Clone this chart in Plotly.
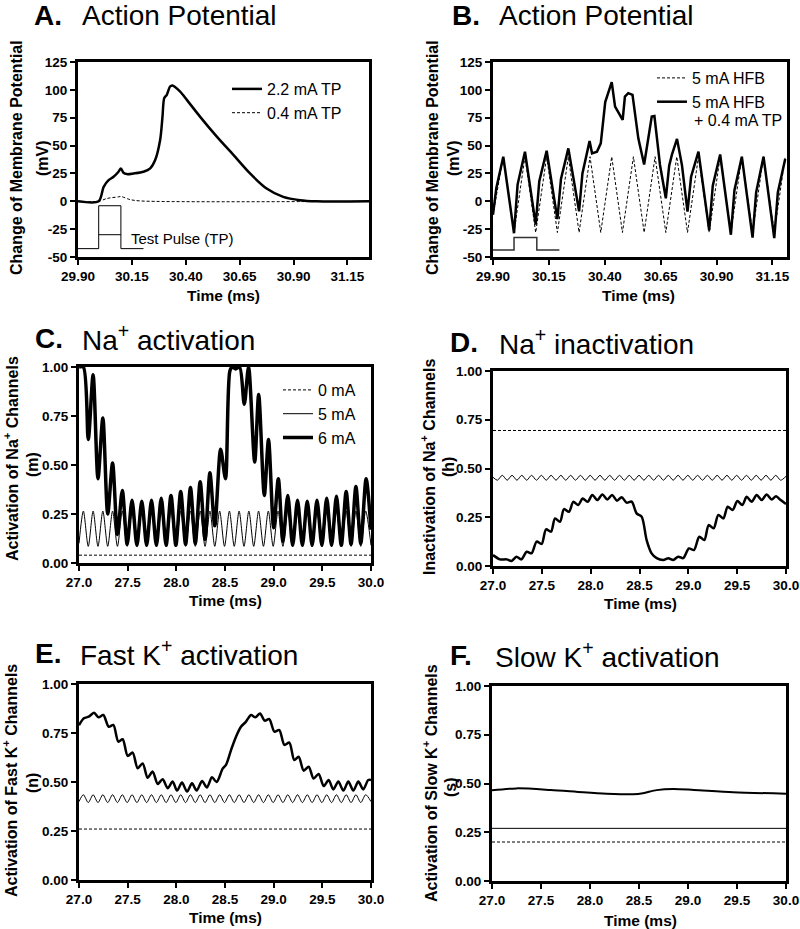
import plotly.graph_objects as go

FONT = "Liberation Sans, Arial, Helvetica, sans-serif"
W, H = 800, 929

# ---------------- Panel A : Action potential (single test pulse) ----------------
a_t_22 = [29.90, 29.996, 30.019, 30.042, 30.065, 30.088, 30.099, 30.111, 30.127, 30.158,
          30.204, 30.235, 30.258, 30.281, 30.292, 30.300, 30.312, 30.327, 30.338, 30.374,
          30.405, 30.466, 30.544, 30.621, 30.698, 30.775, 30.852, 30.930, 31.006, 31.25]
a_v_22 = [0, 0, 13, 19, 22, 26.5, 29.5, 25.6, 24.4, 25,
          26.5, 29.5, 37, 55, 76, 92.6, 95.6, 103, 104, 98.5,
          91, 76, 58, 41.6, 25, 11.5, 4, 1, 0, 0]
a_t_04 = [29.90, 29.996, 30.034, 30.088, 30.099, 30.142, 30.19, 31.25]
a_v_04 = [0, 0, 2.5, 4, 4.3, 1.5, 0.3, 0]
a_tp_t = [29.90, 29.996, 29.996, 30.099, 30.099, 30.204]
a_tp_v = [-42.5, -42.5, -4, -4, -42.5, -42.5]
a_tp_in_t = [29.996, 30.099]
a_tp_in_v = [-30, -30]

# ---------------- Panel B : Action potential with HFB ----------------
b_t_hfb = [29.90, 29.946, 29.994, 30.043, 30.091, 30.140, 30.188, 30.237, 30.285, 30.334,
           30.382, 30.431, 30.479, 30.528, 30.576, 30.625, 30.673, 30.722, 30.770, 30.819,
           30.867, 30.916, 30.964, 31.013, 31.061, 31.110, 31.158, 31.207]
b_v_hfb = [-12, 40, -28, 40, -28, 40, -28, 40, -28, 40,
           -28, 40, -28, 40, -28, 40, -28, 40, -28, 40,
           -28, 40, -28, 40, -28, 40, -28, 40]
b_t_tp = [29.900, 29.915, 29.946, 29.994, 30.010, 30.043, 30.091, 30.107, 30.140, 30.188,
          30.204, 30.237, 30.285, 30.300, 30.332, 30.343, 30.365, 30.382, 30.402, 30.431,
          30.446, 30.480, 30.490, 30.505, 30.524, 30.550, 30.576, 30.595, 30.610, 30.622,
          30.647, 30.673, 30.688, 30.700, 30.723, 30.745, 30.770, 30.786, 30.819, 30.867,
          30.883, 30.916, 30.964, 30.980, 31.013, 31.061, 31.077, 31.110, 31.158, 31.174,
          31.207]
b_v_tp = [-12, 12, 40, -28.7, 15, 44.5, -21, 18, 45.4, -16,
          20, 47.5, -9, 25, 54, 43, 44.5, 52, 89, 107,
          85, 73, 94, 97, 95.5, 56.5, 33, 59.5, 76, 76.5,
          32.6, 2.7, 32, 41.6, 56, 32.6, -9.3, 22, 44.5, -26,
          14, 42, -30, 10, 40, -32.6, 8, 40, -33, 8,
          38]
b_tp_t = [29.90, 29.994, 29.994, 30.096, 30.096, 30.197]
b_tp_v = [-43.7, -43.7, -32.4, -32.4, -43.7, -43.7]

# ---------------- shared time grid (ms) for the 5 mA HFB oscillations ----------------
T_GRID = [27.0,
          27.045, 27.095, 27.145, 27.195, 27.245, 27.295, 27.345, 27.395, 27.445, 27.495,
          27.545, 27.595, 27.645, 27.695, 27.745, 27.795, 27.845, 27.895, 27.945, 27.995,
          28.045, 28.095, 28.145, 28.195, 28.245, 28.295, 28.345, 28.395, 28.445, 28.495,
          28.545, 28.595, 28.645, 28.695, 28.745, 28.795, 28.845, 28.895, 28.945, 28.995,
          29.045, 29.095, 29.145, 29.195, 29.245, 29.295, 29.345, 29.395, 29.445, 29.495,
          29.545, 29.595, 29.645, 29.695, 29.745, 29.795, 29.845, 29.895, 29.945, 30.0]

# ---------------- Panel C : Na+ activation (m) ----------------
c_t_0 = [27.0, 30.0]
c_v_0 = [0.04, 0.04]
c_v_5 = [0.10,
         0.265, 0.085, 0.265, 0.085, 0.265, 0.085, 0.265, 0.085, 0.265, 0.085,
         0.265, 0.085, 0.265, 0.085, 0.265, 0.085, 0.265, 0.085, 0.265, 0.085,
         0.265, 0.085, 0.265, 0.085, 0.265, 0.085, 0.265, 0.085, 0.265, 0.085,
         0.265, 0.085, 0.265, 0.085, 0.265, 0.085, 0.265, 0.085, 0.265, 0.085,
         0.265, 0.085, 0.265, 0.085, 0.265, 0.085, 0.265, 0.085, 0.265, 0.085,
         0.265, 0.085, 0.265, 0.085, 0.265, 0.085, 0.265, 0.085, 0.265, 0.09]
c_t_6 = [27.000, 27.045, 27.095, 27.145, 27.195, 27.245, 27.295, 27.345, 27.395, 27.445,
         27.495, 27.545, 27.595, 27.645, 27.695, 27.745, 27.795, 27.845, 27.895, 27.945,
         27.995, 28.045, 28.095, 28.145, 28.195, 28.245, 28.295, 28.345, 28.395, 28.455,
         28.505, 28.550, 28.575, 28.610, 28.650, 28.698, 28.742, 28.805, 28.846, 28.904,
         28.947, 29.000, 29.048, 29.095, 29.145, 29.195, 29.245, 29.295, 29.345, 29.395,
         29.445, 29.495, 29.545, 29.595, 29.645, 29.695, 29.745, 29.795, 29.845, 29.895,
         29.950, 30.000]
c_v_6 = [1.00, 1.00, 0.63, 0.96, 0.43, 0.74, 0.25, 0.51, 0.145, 0.37,
         0.095, 0.32, 0.09, 0.315, 0.09, 0.32, 0.09, 0.33, 0.09, 0.345,
         0.09, 0.365, 0.095, 0.385, 0.10, 0.415, 0.12, 0.46, 0.19, 0.58,
         0.43, 0.98, 1.00, 0.99, 1.00, 0.81, 1.00, 0.515, 0.86, 0.345,
         0.63, 0.18, 0.43, 0.11, 0.345, 0.09, 0.32, 0.09, 0.315, 0.09,
         0.32, 0.09, 0.33, 0.09, 0.34, 0.09, 0.365, 0.095, 0.39, 0.10,
         0.43, 0.17]

# ---------------- Panel D : Na+ inactivation (h) ----------------
d_t_0 = [27.0, 30.0]
d_v_0 = [0.695, 0.695]
d_v_5 = [0.455,
         0.44, 0.465, 0.44, 0.465, 0.44, 0.465, 0.44, 0.465, 0.44, 0.465,
         0.44, 0.465, 0.44, 0.465, 0.44, 0.465, 0.44, 0.465, 0.44, 0.465,
         0.44, 0.465, 0.44, 0.465, 0.44, 0.465, 0.44, 0.465, 0.44, 0.465,
         0.44, 0.465, 0.44, 0.465, 0.44, 0.465, 0.44, 0.465, 0.44, 0.465,
         0.44, 0.465, 0.44, 0.465, 0.44, 0.465, 0.44, 0.465, 0.44, 0.465,
         0.44, 0.465, 0.44, 0.465, 0.44, 0.465, 0.44, 0.465, 0.44, 0.46]
d_t_6 = [27.000, 27.072, 27.140, 27.190, 27.240, 27.290, 27.345, 27.395, 27.447, 27.498,
         27.543, 27.594, 27.635, 27.686, 27.727, 27.778, 27.822, 27.873, 27.918, 27.969,
         28.017, 28.068, 28.120, 28.170, 28.220, 28.270, 28.317, 28.368, 28.420, 28.470,
         28.522, 28.573, 28.624, 28.676, 28.744, 28.795, 28.846, 28.897, 28.948, 29.006,
         29.058, 29.112, 29.164, 29.208, 29.259, 29.307, 29.358, 29.403, 29.454, 29.502,
         29.553, 29.597, 29.648, 29.700, 29.751, 29.802, 29.853, 29.898, 29.945, 30.000]
d_v_6 = [0.056, 0.034, 0.034, 0.026, 0.047, 0.034, 0.073, 0.065, 0.125, 0.113,
         0.188, 0.176, 0.244, 0.227, 0.292, 0.278, 0.329, 0.313, 0.346, 0.329,
         0.364, 0.338, 0.367, 0.341, 0.364, 0.335, 0.353, 0.325, 0.330, 0.270,
         0.253, 0.133, 0.065, 0.040, 0.031, 0.040, 0.031, 0.048, 0.040, 0.090,
         0.082, 0.150, 0.133, 0.210, 0.193, 0.262, 0.244, 0.304, 0.287, 0.333,
         0.313, 0.355, 0.330, 0.364, 0.338, 0.367, 0.341, 0.358, 0.338, 0.318]

# ---------------- Panel E : Fast K+ activation (n) ----------------
e_t_0 = [27.0, 30.0]
e_v_0 = [0.26, 0.26]
e_v_5 = [0.40,
         0.435, 0.395, 0.435, 0.395, 0.435, 0.395, 0.435, 0.395, 0.435, 0.395,
         0.435, 0.395, 0.435, 0.395, 0.435, 0.395, 0.435, 0.395, 0.435, 0.395,
         0.435, 0.395, 0.435, 0.395, 0.435, 0.395, 0.435, 0.395, 0.435, 0.395,
         0.435, 0.395, 0.435, 0.395, 0.435, 0.395, 0.435, 0.395, 0.435, 0.395,
         0.435, 0.395, 0.435, 0.395, 0.435, 0.395, 0.435, 0.395, 0.435, 0.395,
         0.435, 0.395, 0.435, 0.395, 0.435, 0.395, 0.435, 0.395, 0.435, 0.40]
e_t_6 = [27.000, 27.050, 27.100, 27.154, 27.200, 27.250, 27.305, 27.353, 27.404, 27.449,
         27.500, 27.551, 27.603, 27.654, 27.705, 27.757, 27.808, 27.860, 27.911, 27.962,
         28.007, 28.058, 28.110, 28.161, 28.209, 28.264, 28.315, 28.366, 28.414, 28.476,
         28.510, 28.562, 28.613, 28.664, 28.716, 28.767, 28.812, 28.860, 28.908, 28.955,
         29.007, 29.058, 29.110, 29.161, 29.212, 29.257, 29.308, 29.360, 29.410, 29.462,
         29.514, 29.565, 29.613, 29.664, 29.716, 29.767, 29.818, 29.870, 29.920, 29.972,
         30.000]
e_v_6 = [0.790, 0.825, 0.833, 0.853, 0.830, 0.842, 0.782, 0.791, 0.706, 0.718,
         0.633, 0.650, 0.570, 0.595, 0.522, 0.553, 0.490, 0.514, 0.468, 0.502,
         0.456, 0.497, 0.451, 0.493, 0.456, 0.505, 0.472, 0.524, 0.500, 0.568,
         0.587, 0.663, 0.731, 0.782, 0.808, 0.842, 0.830, 0.850, 0.813, 0.821,
         0.757, 0.765, 0.689, 0.701, 0.612, 0.629, 0.558, 0.578, 0.518, 0.541,
         0.479, 0.510, 0.462, 0.502, 0.456, 0.502, 0.456, 0.502, 0.462, 0.510,
         0.510]

# ---------------- Panel F : Slow K+ activation (s) ----------------
f_t_0 = [27.0, 30.0]
f_v_0 = [0.20, 0.20]
f_t_5 = [27.0, 30.0]
f_v_5 = [0.27, 0.27]
f_t_6 = [27.0, 27.25, 27.6, 27.93, 28.17, 28.44, 28.54, 28.68, 28.85, 29.06, 29.46, 30.0]
f_v_6 = [0.465, 0.475, 0.467, 0.455, 0.448, 0.445, 0.450, 0.466, 0.472, 0.467, 0.455, 0.448]

# ---------------- tick labels ----------------
ap_xticks = [29.90, 30.15, 30.40, 30.65, 30.90, 31.15]
ap_xtext = ["29.90", "30.15", "30.40", "30.65", "30.90", "31.15"]
ap_yticks = [-50, -25, 0, 25, 50, 75, 100, 125]
ap_ytext = ["-50", "-25", "0", "25", "50", "75", "100", "125"]
ch_xticks = [27.0, 27.5, 28.0, 28.5, 29.0, 29.5, 30.0]
ch_xtext = ["27.0", "27.5", "28.0", "28.5", "29.0", "29.5", "30.0"]
ch_yticks = [0, 0.25, 0.5, 0.75, 1.0]
ch_ytext = ["0.00", "0.25", "0.50", "0.75", "1.00"]

DASH = "3px,2px"

fig = go.Figure()


def line(x, y, ax, width=1.0, dash="solid", name=None, legend=None, shape="linear", color="black"):
    fig.add_trace(go.Scatter(
        x=x, y=y, mode="lines", xaxis="x" + ax, yaxis="y" + ax,
        line=dict(color=color, width=width, dash=dash, shape=shape, smoothing=0.8),
        name=name if name else "", showlegend=name is not None,
        legend=legend if legend else "legend", hoverinfo="skip"))


# A
line(a_t_22, a_v_22, "", 2.5, name="2.2 mA TP", legend="legend", shape="spline")
line(a_t_04, a_v_04, "", 1.0, DASH, name="0.4 mA TP", legend="legend", shape="spline")
line(a_tp_t, a_tp_v, "", 1.0)
line(a_tp_in_t, a_tp_in_v, "", 1.0)
# B
line(b_t_hfb, b_v_hfb, "2", 1.0, DASH, name="5 mA HFB", legend="legend2")
line(b_t_tp, b_v_tp, "2", 2.5, name="5 mA HFB", legend="legend2")
line(b_tp_t, b_tp_v, "2", 1.5, color="#333333")
# C
line(c_t_0, c_v_0, "3", 1.0, DASH, name="0 mA", legend="legend3")
line(T_GRID, c_v_5, "3", 1.0, name="5 mA", legend="legend3", shape="spline")
line(c_t_6, c_v_6, "3", 3.5, name="6 mA", legend="legend3", shape="spline")
# D
line(d_t_0, d_v_0, "4", 1.0, DASH)
line(T_GRID, d_v_5, "4", 1.0, shape="spline")
line(d_t_6, d_v_6, "4", 2.5, shape="spline")
# E
line(e_t_0, e_v_0, "5", 1.0, DASH)
line(T_GRID, e_v_5, "5", 1.0, shape="spline")
line(e_t_6, e_v_6, "5", 2.5, shape="spline")
# F
line(f_t_0, f_v_0, "6", 1.0, DASH)
line(f_t_5, f_v_5, "6", 1.0)
line(f_t_6, f_v_6, "6", 2.0, shape="spline")

tickfont = dict(family=FONT, size=13.5, color="black", weight="bold")
common = dict(showline=True, linewidth=3, linecolor="black", mirror=True, ticks="outside",
              ticklen=5, tickwidth=2, tickcolor="black", showgrid=False, zeroline=False,
              tickfont=tickfont, fixedrange=True, automargin=False)


def px_dom_x(a, b):
    return [a / W, b / W]


def px_dom_y(top, bottom):
    return [1 - bottom / H, 1 - top / H]


panels = [
    ("", (78, 369), (62, 257), [29.9, 31.25], [-50, 125], ap_xticks, ap_xtext, ap_yticks, ap_ytext),
    ("2", (493, 787), (62, 257), [29.9, 31.215], [-50, 125], ap_xticks, ap_xtext, ap_yticks, ap_ytext),
    ("3", (79, 371), (367, 563), [27, 30], [0, 1], ch_xticks, ch_xtext, ch_yticks, ch_ytext),
    ("4", (493, 786), (371, 566), [27, 30], [0, 1], ch_xticks, ch_xtext, ch_yticks, ch_ytext),
    ("5", (79, 371), (684, 880), [27, 30], [0, 1], ch_xticks, ch_xtext, ch_yticks, ch_ytext),
    ("6", (492, 786), (686, 881), [27, 30], [0, 1], ch_xticks, ch_xtext, ch_yticks, ch_ytext),
]
lay = {}
for ax, (x0, x1), (y0, y1), xr, yr, xtv, xtt, ytv, ytt in panels:
    lay["xaxis" + ax] = dict(common, domain=px_dom_x(x0, x1), range=xr, tickvals=xtv, ticktext=xtt,
                             anchor="y" + ax)
    lay["yaxis" + ax] = dict(common, domain=px_dom_y(y0, y1), range=yr, tickvals=ytv, ticktext=ytt,
                             anchor="x" + ax)

ann = []


def text(x, y, s, size, bold=False, xanchor="left", angle=0):
    ann.append(dict(x=x / W, y=1 - y / H, xref="paper", yref="paper", text=s, showarrow=False,
                    xanchor=xanchor, yanchor="middle", textangle=angle,
                    font=dict(family=FONT, size=size, color="black",
                              weight="bold" if bold else "normal")))


# panel titles
titles = [(32, 80, 16, "A.", "Action Potential"),
          (450, 497, 16, "B.", "Action Potential"),
          (33, 80, 338, "C.", "Na<sup>+</sup> activation"),
          (448, 497, 342, "D.", "Na<sup>+</sup> inactivation"),
          (33, 78, 653, "E.", "Fast K<sup>+</sup> activation"),
          (448, 493, 655, "F.", "Slow K<sup>+</sup> activation")]
for xl, xt, yc, lab, tt in titles:
    text(xl, yc, lab, 28, bold=True)
    text(xt, yc, tt, 28)

# axis titles
xt = [(223, 295), (638, 295), (225, 600), (640, 603), (225, 917), (640, 920)]
for x, y in xt:
    text(x, y, "Time (ms)", 15.5, bold=True, xanchor="center")

yt = [(16, 158, "Change of Membrane Potential", 42, 158, "(mV)"),
      (432, 158, "Change of Membrane Potential", 453, 158, "(mV)"),
      (11, 459, "Activation of Na<sup>+</sup> Channels", 32, 465, "(m)"),
      (428, 467, "Inactivation of Na<sup>+</sup> Channels", 448, 467, "(h)"),
      (10, 781, "Activation of Fast K<sup>+</sup> Channels", 32, 783, "(n)"),
      (430, 783, "Activation of Slow K<sup>+</sup> Channels", 450, 787, "(s)")]
for x1, y1, s1, x2, y2, s2 in yt:
    text(x1, y1, s1, 16, bold=True, xanchor="center", angle=-90)
    text(x2, y2, s2, 16, bold=True, xanchor="center", angle=-90)

# Test pulse label (data coordinates)
ann.append(dict(x=30.135, y=-33, xref="x", yref="y", text="Test Pulse (TP)", showarrow=False,
                xanchor="left", yanchor="middle", font=dict(family=FONT, size=15, color="black")))
# second line of legend B entry
text(692, 120, "+ 0.4 mA TP", 16)

legfont = dict(family=FONT, size=16, color="black")
leg = dict(bgcolor="rgba(0,0,0,0)", borderwidth=0, font=legfont, xanchor="left", yanchor="top",
           tracegroupgap=0, itemwidth=30, itemclick=False, itemdoubleclick=False)

fig.update_layout(
    width=W, height=H, autosize=False,
    margin=dict(l=0, r=0, t=0, b=0, autoexpand=False),
    paper_bgcolor="white", plot_bgcolor="white",
    annotations=ann,
    legend=dict(leg, x=227 / W, y=1 - 72 / H),
    legend2=dict(leg, x=652 / W, y=1 - 61 / H),
    legend3=dict(leg, x=278 / W, y=1 - 373 / H),
    **lay,
)

fig.write_html("out.html", config={"displayModeBar": False, "staticPlot": False},
               post_script="document.body.style.margin='0px';document.body.style.overflow='hidden';")
